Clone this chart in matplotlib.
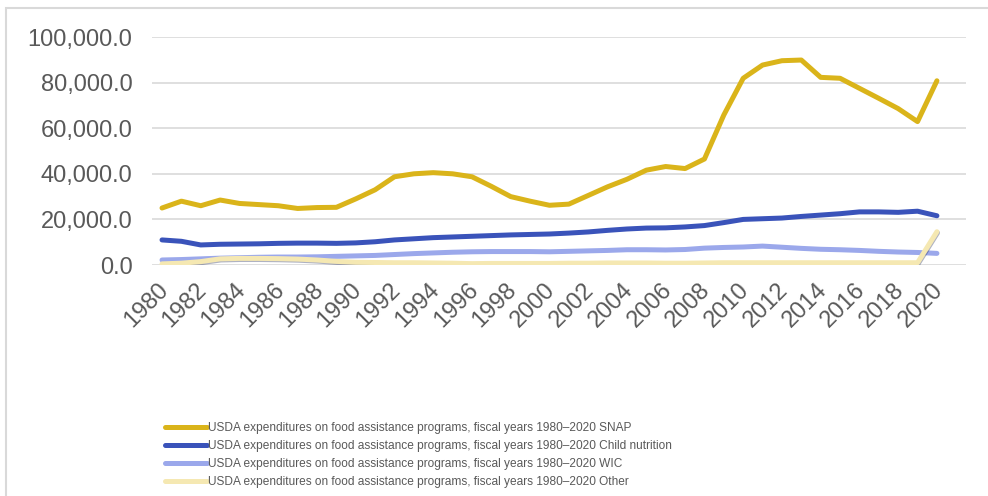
import numpy as np
import matplotlib
matplotlib.use('Agg')
import matplotlib.pyplot as plt
import matplotlib.patheffects as pe
from matplotlib.patches import Rectangle
from matplotlib.ticker import FuncFormatter
from matplotlib.transforms import ScaledTranslation

plt.rcParams['font.family'] = ['Liberation Sans', 'DejaVu Sans']

# USDA expenditures on food assistance programs, fiscal years 1980-2020 (million $)
years = list(range(1980, 2021))
snap = [25000, 28000, 26000, 28500, 27000, 26500, 26000, 24800, 25200, 25300,
        29000, 33000, 38700, 40000, 40500, 40000, 38700, 34500, 30000, 28000,
        26200, 26700, 30500, 34300, 37600, 41600, 43200, 42300, 46500, 65800,
        81900, 87700, 89600, 89900, 82300, 81900, 77500, 73100, 68600, 62900,
        80800]
child = [11000, 10400, 8800, 9100, 9200, 9300, 9500, 9600, 9600, 9500,
         9700, 10200, 11000, 11500, 12000, 12300, 12600, 12900, 13200, 13400,
         13600, 14000, 14500, 15200, 15800, 16200, 16300, 16700, 17300, 18600,
         20000, 20300, 20600, 21300, 21900, 22500, 23300, 23300, 23100, 23600,
         21600]
wic = [2200, 2400, 2700, 3000, 3200, 3400, 3500, 3500, 3600, 3800,
       4000, 4200, 4600, 5000, 5300, 5600, 5800, 5900, 5900, 5900,
       5800, 6000, 6200, 6400, 6700, 6700, 6600, 6800, 7400, 7700,
       7900, 8300, 7800, 7300, 6900, 6700, 6400, 6000, 5700, 5500,
       5100]
other = [500, 800, 1500, 2700, 2900, 2900, 2800, 2600, 2200, 1600,
         1200, 1100, 1000, 1000, 900, 800, 600, 700, 700, 700,
         700, 800, 800, 900, 900, 900, 800, 800, 900, 1000,
         1000, 1000, 1000, 1000, 1000, 1000, 1000, 1000, 1000, 1000,
         14600]

prefix = 'USDA expenditures on food assistance programs, fiscal years 1980\u20132020 '
names = ['SNAP', 'Child nutrition', 'WIC', 'Other']
colors = ['#DAB41A', '#3A53BA', '#9BA8EB', '#F5E8B2']
series = [snap, child, wic, other]

fig = plt.figure(figsize=(9.88, 4.96), dpi=100)
ax = fig.add_axes([0.1538, 0.4657, 0.8239, 0.4597])

handles = []
for vals, name, col in zip(series, names, colors):
    ln, = ax.plot(years, vals, color=col, lw=3.6, label=prefix + name,
                  solid_capstyle='round', solid_joinstyle='round')
    if name == 'Other':
        # faint dark shadow under the pale line
        ln.set_path_effects([pe.SimpleLineShadow(offset=(0.4, -0.8), shadow_color='#1a2450', alpha=0.35),
                             pe.Normal()])
    handles.append(plt.Line2D([], [], color=col, lw=3.6, solid_capstyle='round'))

ax.set_ylim(0, 100000)
ax.set_xlim(1979.48, 2021.5)
ax.set_yticks(range(0, 100001, 20000))
ax.set_xticks(years[::2])
ax.yaxis.set_major_formatter(FuncFormatter(lambda v, p: f'{v:,.1f}'))
ax.tick_params(axis='both', length=0, labelsize=17, labelcolor='#595959')
ax.tick_params(axis='y', pad=14)
ax.tick_params(axis='x', pad=4)
shift = ScaledTranslation(-5 / 100, -8 / 100, fig.dpi_scale_trans)
for lab in ax.get_xticklabels():
    lab.set_rotation(45)
    lab.set_ha('right')
    lab.set_va('top')
    lab.set_rotation_mode('anchor')
    lab.set_transform(lab.get_transform() + shift)
ax.grid(axis='y', color='#d9d9d9', lw=1.2)
ax.set_axisbelow(True)
for s in ax.spines.values():
    s.set_visible(False)

# chart frame
fig.patches.append(Rectangle((6 / 988, -0.1), 1.2, 1.1 - 8 / 496, transform=fig.transFigure,
                             fill=False, edgecolor='#d9d9d9', lw=1.5))

fig.legend(handles, [prefix + n for n in names], loc='upper left',
           bbox_to_anchor=(160 / 988, 1 - 417 / 496), frameon=False,
           fontsize=8.6, handlelength=3.5, handletextpad=0.15, labelspacing=0.52,
           labelcolor='#595959', borderaxespad=0)

fig.savefig('out.png', dpi=100)
